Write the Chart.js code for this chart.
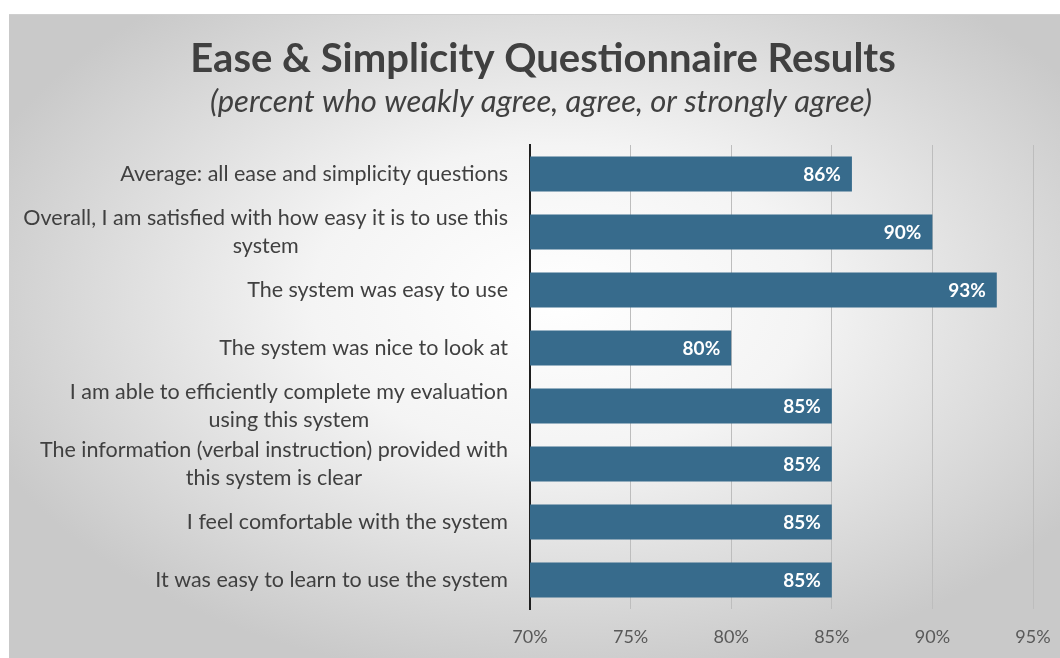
<!DOCTYPE html>
<html>
<head>
<meta charset="utf-8">
<script src="https://cdn.jsdelivr.net/npm/chart.js@4/dist/chart.umd.min.js"></script>
<style>
  html, body { margin: 0; padding: 0; background: #fff; }
  #wrap { width: 1060px; height: 658px; }
</style>
</head>
<body>
<div id="wrap"><canvas id="barchart"></canvas></div>
<script>
const categories = [
  ["Average: all ease and simplicity questions"],
  ["Overall, I am satisfied with how easy it is to use this", "system"],
  ["The system was easy to use"],
  ["The system was nice to look at"],
  ["I am able to efficiently complete my evaluation", "using this system"],
  ["The information (verbal instruction) provided with", "this system is clear"],
  ["I feel comfortable with the system"],
  ["It was easy to learn to use the system"]
];
const agreePercent = [86, 90, 93.2, 80, 85, 85, 85, 85];
const xTicks = [70, 75, 80, 85, 90, 95];

const titleText = "Ease & Simplicity Questionnaire Results";
const subtitleText = "(percent who weakly agree, agree, or strongly agree)";

// gray radial panel behind everything
const panelBg = {
  id: "panelBg",
  beforeDraw(chart) {
    const ctx = chart.ctx;
    ctx.save();
    ctx.fillStyle = "#ffffff";
    ctx.fillRect(0, 0, chart.width, chart.height);
    ctx.beginPath();
    ctx.rect(9, 14, chart.width - 9, chart.height - 14);
    ctx.clip();
    ctx.translate(560, 300);
    ctx.scale(1, 0.62);
    const g = ctx.createRadialGradient(0, 0, 0, 0, 0, 620);
    g.addColorStop(0, "#ffffff");
    g.addColorStop(0.4, "#f4f4f4");
    g.addColorStop(1, "#c9c9c9");
    ctx.fillStyle = g;
    ctx.fillRect(-700, -700, 1400, 1400);
    ctx.restore();
    ctx.save();
    ctx.strokeStyle = "#cfcfcf";
    ctx.beginPath();
    ctx.moveTo(9, 14.5);
    ctx.lineTo(chart.width, 14.5);
    ctx.stroke();
    ctx.restore();
  }
};

// titles, category labels and value labels
const textLayer = {
  id: "textLayer",
  afterDraw(chart) {
    const ctx = chart.ctx;
    const yScale = chart.scales.y;
    ctx.save();
    ctx.fillStyle = "#404040";
    ctx.textAlign = "center";
    ctx.textBaseline = "middle";
    ctx.font = "bold 40px Lato";
    ctx.fillText(titleText, 543, 59);
    ctx.font = "italic 31px Lato";
    ctx.fillText(subtitleText, 541, 102);

    ctx.font = "21.5px Lato";
    const lineH = 28.5;
    categories.forEach((lines, i) => {
      const cy = yScale.getPixelForTick(i);
      let maxW = 0;
      lines.forEach(l => { maxW = Math.max(maxW, ctx.measureText(l).width); });
      const cx = chart.chartArea.left - 22 - maxW / 2;
      lines.forEach((l, j) => {
        ctx.fillText(l, cx, cy + (j - (lines.length - 1) / 2) * lineH);
      });
    });

    ctx.fillStyle = "#ffffff";
    ctx.font = "bold 19px Lato";
    ctx.textAlign = "right";
    chart.getDatasetMeta(0).data.forEach((bar, i) => {
      ctx.fillText(Math.round(agreePercent[i]) + "%", bar.x - 11, bar.y + 1);
    });
    ctx.restore();
  }
};

const ctx = document.getElementById("barchart").getContext("2d");
const barchart = new Chart(ctx, {
  type: "bar",
  data: {
    labels: categories,
    datasets: [
      {
        label: "Agree",
        data: agreePercent,
        backgroundColor: "#376b8c",
        borderWidth: 0,
        barPercentage: 0.6,
        categoryPercentage: 1
      }
    ]
  },
  options: {
    indexAxis: "y",
    responsive: true,
    maintainAspectRatio: false,
    animation: false,
    layout: { padding: { left: 9, right: 27, top: 145, bottom: 0 } },
    plugins: {
      legend: { display: false },
      title: { display: false },
      tooltip: { enabled: false }
    },
    scales: {
      x: {
        min: 70,
        max: 95,
        afterBuildTicks(scale) {
          scale.ticks = xTicks.map(v => ({ value: v }));
        },
        afterFit(scale) {
          scale.height = 49;
          scale.paddingLeft = 0;
          scale.paddingRight = 0;
        },
        grid: { color: "#bdbdbd", lineWidth: 1, tickLength: 0 },
        border: { display: false },
        ticks: {
          padding: 17,
          color: "#595959",
          font: { family: "Lato", size: 18 },
          callback: v => v + "%"
        }
      },
      y: {
        afterFit(scale) { scale.width = 521; },
        grid: { display: false, drawTicks: false },
        border: { display: true, color: "#1f1f1f", width: 2 },
        ticks: { display: false }
      }
    }
  },
  plugins: [panelBg, textLayer]
});
</script>
</body>
</html>
